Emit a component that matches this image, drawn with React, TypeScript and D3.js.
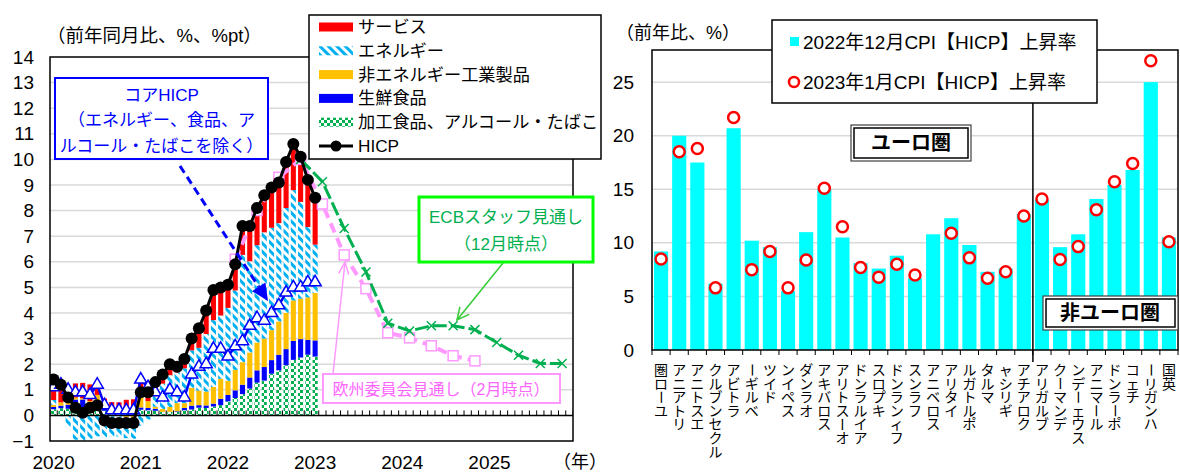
import React from "react";
import * as d3 from "d3";

const FONT = "'Liberation Sans', Arial, 'Noto Sans CJK JP', sans-serif";

// ---- Left panel: euro area HICP, monthly Jan 2020 – Jan 2023 (contributions in %pt) ----
const hicp = [1.4, 1.2, 0.7, 0.3, 0.1, 0.3, 0.4, -0.2, -0.3, -0.3, -0.3, -0.3,
  0.9, 0.9, 1.3, 1.6, 2.0, 1.9, 2.2, 3.0, 3.4, 4.1, 4.9, 5.0,
  5.1, 5.9, 7.4, 7.4, 8.1, 8.6, 8.9, 9.1, 9.9, 10.6, 10.1, 9.2,
  8.5];
const coreHicp = [1.1, 1.2, 1.0, 0.9, 0.9, 0.8, 1.2, 0.4, 0.2, 0.2, 0.2, 0.2,
  1.4, 1.1, 0.9, 0.7, 1.0, 0.9, 0.7, 1.6, 1.9, 2.0, 2.6, 2.6,
  2.3, 2.7, 2.9, 3.5, 3.8, 3.7, 4.0, 4.3, 4.8, 5.0, 5.0, 5.2,
  5.2];
const services = [0.78, 0.74, 0.60, 0.55, 0.60, 0.65, 0.41, 0.32, 0.23, 0.20, 0.28, 0.32,
  0.59, 0.55, 0.55, 0.38, 0.46, 0.29, 0.38, 0.46, 0.71, 0.88, 1.13, 1.01,
  0.95, 1.05, 1.13, 1.38, 1.46, 1.42, 1.55, 1.59, 1.80, 1.80, 1.76, 1.84,
  1.83];
const energy = [0.19, -0.03, -0.44, -0.95, -1.17, -0.91, -0.82, -0.83, -0.80, -0.80, -0.81, -0.78,
  -0.40, -0.16, 0.41, 0.99, 1.24, 1.20, 1.36, 1.46, 1.67, 2.25, 2.61, 2.47,
  2.85, 3.10, 4.19, 3.56, 3.80, 4.15, 4.00, 3.84, 4.09, 4.31, 3.78, 2.75,
  1.89];
const neig = [0.08, 0.13, 0.13, 0.08, 0.05, 0.05, 0.42, -0.03, -0.03, -0.03, -0.08, -0.13,
  0.41, 0.27, 0.08, 0.11, 0.19, 0.32, 0.19, 0.70, 0.57, 0.54, 0.65, 0.78,
  0.55, 0.80, 0.88, 0.98, 1.09, 1.11, 1.17, 1.30, 1.42, 1.58, 1.58, 1.66,
  1.85];
const unprocessedFood = [0.09, 0.10, 0.16, 0.34, 0.34, 0.23, 0.18, 0.16, 0.11, 0.11, 0.15, 0.13,
  0.09, 0.09, 0.08, 0.01, 0.01, 0.03, 0.09, 0.15, 0.10, 0.10, 0.11, 0.25,
  0.25, 0.30, 0.37, 0.43, 0.48, 0.53, 0.53, 0.61, 0.63, 0.74, 0.72, 0.58,
  0.63];
const processedFood = [0.24, 0.28, 0.26, 0.28, 0.28, 0.28, 0.20, 0.18, 0.18, 0.20, 0.18, 0.18,
  0.22, 0.20, 0.18, 0.13, 0.13, 0.13, 0.20, 0.23, 0.30, 0.29, 0.35, 0.40,
  0.55, 0.68, 0.83, 1.05, 1.28, 1.36, 1.63, 1.76, 1.96, 2.17, 2.26, 2.37,
  2.30];
const yearLabels = ["2020", "2021", "2022", "2023", "2024", "2025"];
// quarterly projections, placed on the middle month of each quarter (month index from Jan 2020)
const ecbMonth = [34, 37, 40, 43, 46, 49, 52, 55, 58, 61, 64, 67, 70];
const ecbValues = [10.0, 9.13, 7.3, 5.6, 3.6, 3.3, 3.5, 3.5, 3.35, 2.85, 2.35, 2.03, 2.03];
const ecMonth = [25, 28, 31, 34, 37, 40, 43, 46, 49, 52, 55, 58];
const ecValues = [6.1, 8.0, 9.3, 10.0, 8.26, 6.27, 4.95, 3.23, 3.03, 2.72, 2.33, 2.13];

// ---- Right panel: CPI/HICP by country ----
const countries = ["ユーロ圏", "リトアニア", "エストニア", "ルクセンブルク", "ラトビア", "ベルギー", "ドイツ",
  "スペイン", "オランダ", "スロバキア", "オーストリア", "アイルランド", "キプロス", "フィンランド", "フランス",
  "スロベニア", "イタリア", "ポルトガル", "マルタ", "ギリシャ", "クロアチア",
  "ブルガリア", "デンマーク", "スウェーデン", "ルーマニア", "ポーランド", "チェコ", "ハンガリー", "英国"];
const dec2022 = [9.2, 20.0, 17.5, 6.2, 20.7, 10.2, 9.6, 5.5, 11.0, 15.0, 10.5, 8.1, 7.6, 8.8, 6.7,
  10.8, 12.3, 9.8, 7.3, 7.6, 12.7, 14.0, 9.6, 10.8, 14.1, 15.4, 16.8, 25.0, 10.5];
const jan2023: (number | null)[] = [8.5, 18.5, 18.8, 5.8, 21.7, 7.5, 9.2, 5.8, 8.4, 15.1, 11.5, 7.7, 6.8, 8.0, 7.0,
  null, 10.9, 8.6, 6.7, 7.3, 12.5, 14.1, 8.45, 9.65, 13.1, 15.7, 17.4, 27.0, 10.1];

const stackKeys = ["processed", "unprocessed", "neig", "energy", "services"] as const;
const stackFill: Record<string, string> = {
  processed: "url(#dots)",
  unprocessed: "#0000ff",
  neig: "#ffc000",
  energy: "url(#hatch)",
  services: "#ff0000",
};

function arrowHead(x1: number, y1: number, x2: number, y2: number, len: number, half: number) {
  const a = Math.atan2(y2 - y1, x2 - x1);
  const bx = x2 - len * Math.cos(a), by = y2 - len * Math.sin(a);
  const px = -Math.sin(a) * half, py = Math.cos(a) * half;
  return { tip: [x2, y2], l: [bx + px, by + py], r: [bx - px, by - py] };
}

function LeftPanel() {
  const x0 = 50, x1 = 573, yTop = 57, yBot = 441;
  const x = d3.scaleBand<number>().domain(d3.range(72)).range([x0, x1]).paddingInner(0.3).paddingOuter(0.15);
  const step = x.step();
  const cx = (i: number) => (x(i) as number) + x.bandwidth() / 2;
  const y = d3.scaleLinear().domain([-1, 14]).range([yBot, yTop]);

  const rows = hicp.map((_, i) => ({
    processed: processedFood[i], unprocessed: unprocessedFood[i], neig: neig[i],
    energy: energy[i], services: services[i],
  }));
  const series = d3.stack<any>().keys(stackKeys as any).offset(d3.stackOffsetDiverging)(rows);

  const line = d3.line<[number, number]>().x(d => d[0]).y(d => d[1]);
  const hicpPts = hicp.map((v, i) => [cx(i), y(v)] as [number, number]);
  const corePts = coreHicp.map((v, i) => [cx(i), y(v)] as [number, number]);
  const ecbPts = ecbValues.map((v, i) => [cx(ecbMonth[i]), y(v)] as [number, number]);
  const ecPts = ecValues.map((v, i) => [cx(ecMonth[i]), y(v)] as [number, number]);
  const tri = d3.symbol().type(d3.symbolTriangle).size(64)() as string;

  const coreArrow = arrowHead(180, 166, 268, 301, 17, 8);
  const ecbArrow = arrowHead(503, 263, 457, 320, 12, 6);
  const ecArrow = arrowHead(333, 374, 345, 262, 12, 5);

  const legendItems = [
    { label: "サービス", kind: "rect", fill: "#ff0000" },
    { label: "エネルギー", kind: "rect", fill: "url(#hatch)" },
    { label: "非エネルギー工業製品", kind: "rect", fill: "#ffc000" },
    { label: "生鮮食品", kind: "rect", fill: "#0000ff" },
    { label: "加工食品、アルコール・たばこ", kind: "rect", fill: "url(#dots)" },
    { label: "HICP", kind: "line", fill: "#000" },
  ];

  return (
    <g fontFamily={FONT}>
      <text x={47} y={35} fontSize={18.5} dominantBaseline="central">（前年同月比、%、%pt）</text>
      {/* gridlines */}
      {d3.range(1, 14).map(v => (
        <line key={v} x1={x0} x2={x1} y1={y(v)} y2={y(v)} stroke="#d9d9d9" strokeWidth={1.5} />
      ))}
      <g clipPath="url(#clipL)">
        {series.map(s => (
          <g key={s.key} fill={stackFill[s.key]}>
            {s.map((d, i) => {
              const top = y(Math.max(d[0], d[1]));
              const h = Math.abs(y(d[0]) - y(d[1]));
              return h > 0 ? <rect key={i} x={x(i)} y={top} width={x.bandwidth()} height={h} /> : null;
            })}
          </g>
        ))}
        {/* zero line and monthly ticks */}
        <line x1={x0} x2={x1} y1={y(0)} y2={y(0)} stroke="#000" strokeWidth={1.5} />
        {d3.range(73).map(i => (
          <line key={i} x1={x0 + i * step} x2={x0 + i * step} y1={y(0)} y2={y(0) - 5} stroke="#000" strokeWidth={1} />
        ))}
        {/* European Commission projection */}
        <path d={line(ecPts) as string} fill="none" stroke="#ff99ff" strokeWidth={4} strokeDasharray="10,6" />
        {ecPts.map((p, i) => (
          <rect key={i} x={p[0] - 5} y={p[1] - 5} width={10} height={10} fill="#fff" stroke="#ff99ff" strokeWidth={1.5} />
        ))}
        {/* ECB staff projection */}
        <path d={line(ecbPts) as string} fill="none" stroke="#00b050" strokeWidth={3} strokeDasharray="14,4" />
        {ecbPts.map((p, i) => (
          <path key={i} d={`M${p[0] - 4.5},${p[1] - 4.5}L${p[0] + 4.5},${p[1] + 4.5}M${p[0] - 4.5},${p[1] + 4.5}L${p[0] + 4.5},${p[1] - 4.5}`}
            stroke="#00b050" strokeWidth={1.5} />
        ))}
        {/* core HICP */}
        <path d={line(corePts) as string} fill="none" stroke="#0000ff" strokeWidth={2.5} />
        {corePts.map((p, i) => (
          <path key={i} d={tri} transform={`translate(${p[0]},${p[1]})`} fill="#fff" stroke="#0000ff" strokeWidth={1.5} />
        ))}
        {/* headline HICP */}
        <path d={line(hicpPts) as string} fill="none" stroke="#000" strokeWidth={3} />
        {hicpPts.map((p, i) => (
          <circle key={i} cx={p[0]} cy={p[1]} r={6} fill="#000" />
        ))}
      </g>
      <rect x={x0} y={yTop} width={x1 - x0} height={yBot - yTop} fill="none" stroke="#000" strokeWidth={1.5} />
      {d3.range(-1, 15).map(v => (
        <text key={v} x={34} y={y(v)} fontSize={19} textAnchor="end" dominantBaseline="central">
          {v < 0 ? `−${-v}` : v}
        </text>
      ))}
      {yearLabels.map((t, k) => (
        <text key={t} x={cx(k * 12)} y={462} fontSize={19} textAnchor="middle" dominantBaseline="central">{t}</text>
      ))}
      <text x={580} y={462} fontSize={18} textAnchor="middle" dominantBaseline="central">（年）</text>

      {/* core HICP annotation */}
      <line x1={180} y1={166} x2={(coreArrow.l[0] + coreArrow.r[0]) / 2} y2={(coreArrow.l[1] + coreArrow.r[1]) / 2}
        stroke="#0000ff" strokeWidth={3} strokeDasharray="8,5" />
      <polygon points={`${coreArrow.tip} ${coreArrow.l} ${coreArrow.r}`} fill="#0000ff" />
      <rect x={55} y={78} width={213} height={81} fill="#fff" stroke="#0000ff" strokeWidth={2} />
      {["コアHICP", "（エネルギー、食品、ア", "ルコール・たばこを除く）"].map((t, k) => (
        <text key={k} x={161.5} y={95 + k * 25.5} fontSize={17} fill="#0000ff" textAnchor="middle" dominantBaseline="central">{t}</text>
      ))}

      {/* ECB annotation */}
      <line x1={503} y1={263} x2={457} y2={320} stroke="#33cc33" strokeWidth={1.5} />
      <path d={`M${ecbArrow.l}L${ecbArrow.tip}L${ecbArrow.r}`} fill="none" stroke="#33cc33" strokeWidth={1.5} />
      <rect x={419} y={197} width={174} height={65} fill="#fff" stroke="#00ff00" strokeWidth={3} />
      <text x={506} y={217} fontSize={17} fill="#00b050" textAnchor="middle" dominantBaseline="central">ECBスタッフ見通し</text>
      <text x={506} y={244} fontSize={17} fill="#00b050" textAnchor="middle" dominantBaseline="central">（12月時点）</text>

      {/* European Commission annotation */}
      <line x1={333} y1={374} x2={345} y2={262} stroke="#ff99ff" strokeWidth={1.5} />
      <path d={`M${ecArrow.l}L${ecArrow.tip}L${ecArrow.r}`} fill="none" stroke="#ff99ff" strokeWidth={1.5} />
      <rect x={323} y={374} width={237} height={29} fill="#fff" stroke="#ff99ff" strokeWidth={2} />
      <text x={441} y={389} fontSize={16} fill="#ff66ff" textAnchor="middle" dominantBaseline="central">欧州委員会見通し（2月時点）</text>

      {/* legend */}
      <rect x={309} y={15} width={292} height={144} fill="#fff" stroke="#000" strokeWidth={1.5} />
      {legendItems.map((it, k) => {
        const cy = 27 + k * 23.8;
        return (
          <g key={k}>
            {it.kind === "rect" ? (
              <rect x={319} y={cy - 4.5} width={34} height={9} fill={it.fill} />
            ) : (
              <g>
                <line x1={319} x2={353} y1={cy} y2={cy} stroke="#000" strokeWidth={3} />
                <circle cx={336} cy={cy} r={5.5} fill="#000" />
              </g>
            )}
            <text x={358} y={cy} fontSize={17.2} dominantBaseline="central">{it.label}</text>
          </g>
        );
      })}
    </g>
  );
}

function RightPanel() {
  const x0 = 652, x1 = 1178, yTop = 50, yBot = 350;
  const x = d3.scaleBand<string>().domain(countries).range([x0, x1]).paddingInner(0.22).paddingOuter(0.11);
  const step = x.step();
  const y = d3.scaleLinear().domain([0, 28]).range([yBot, yTop]);
  const cx = (c: string) => (x(c) as number) + x.bandwidth() / 2;
  const divX = x0 + countries.indexOf("ブルガリア") * step;

  return (
    <g fontFamily={FONT}>
      <text x={616} y={33} fontSize={18} dominantBaseline="central">（前年比、%）</text>
      {d3.range(5, 30, 5).map(v => (
        <line key={v} x1={x0} x2={x1} y1={y(v)} y2={y(v)} stroke="#d9d9d9" strokeWidth={1.5} />
      ))}
      {countries.map((c, i) => (
        <rect key={c} x={x(c)} y={y(dec2022[i])} width={x.bandwidth()} height={y(0) - y(dec2022[i])} fill="#00ffff" />
      ))}
      {countries.map((c, i) => jan2023[i] == null ? null : (
        <circle key={c} cx={cx(c)} cy={y(jan2023[i] as number)} r={5.5} fill="#fff" stroke="#ff0000" strokeWidth={2.5} />
      ))}
      <rect x={x0} y={yTop} width={x1 - x0} height={yBot - yTop} fill="none" stroke="#000" strokeWidth={1.5} />
      {d3.range(countries.length + 1).map(i => (
        <line key={i} x1={x0 + i * step} x2={x0 + i * step} y1={yBot} y2={yBot + 5} stroke="#000" strokeWidth={1} />
      ))}
      <line x1={divX} x2={divX} y1={103} y2={362} stroke="#000" strokeWidth={1.5} />
      {d3.range(0, 30, 5).map(v => (
        <text key={v} x={634} y={y(v)} fontSize={19} textAnchor="end" dominantBaseline="central">{v}</text>
      ))}
      {/* vertical category labels: upright glyphs stacked bottom to top, long-vowel mark turned */}
      {countries.map(c => {
        const chars = Array.from(c).reverse();
        return (
          <g key={c}>
            {chars.map((ch, k) => {
              const yy = 370 + k * 13.6;
              return (
                <text key={k} x={cx(c)} y={yy} fontSize={14} textAnchor="middle" dominantBaseline="central"
                  transform={ch === "ー" ? `rotate(90 ${cx(c)} ${yy})` : undefined}>{ch}</text>
              );
            })}
          </g>
        );
      })}
      {/* legend */}
      <rect x={772} y={20} width={325} height={83} fill="#fff" stroke="#000" strokeWidth={1.5} />
      <rect x={790} y={37} width={9} height={9} fill="#00ffff" />
      <text x={803} y={42} fontSize={19} dominantBaseline="central">2022年12月CPI【HICP】上昇率</text>
      <circle cx={794} cy={82} r={5} fill="#fff" stroke="#ff0000" strokeWidth={2.5} />
      <text x={803} y={82} fontSize={19} dominantBaseline="central">2023年1月CPI【HICP】上昇率</text>
      {/* group labels */}
      <rect x={851} y={125} width={120} height={36} fill="#fff" stroke="#404040" strokeWidth={1.2} />
      <rect x={854} y={128} width={114} height={30} fill="none" stroke="#000" strokeWidth={1.5} />
      <text x={911} y={143} fontSize={20} fontWeight="bold" textAnchor="middle" dominantBaseline="central">ユーロ圏</text>
      <rect x={1043} y={296} width={135} height={34} fill="#fff" stroke="#404040" strokeWidth={1.2} />
      <rect x={1046} y={299} width={129} height={28} fill="none" stroke="#000" strokeWidth={1.5} />
      <text x={1110} y={313} fontSize={20} fontWeight="bold" textAnchor="middle" dominantBaseline="central">非ユーロ圏</text>
    </g>
  );
}

export default function App() {
  return (
    <svg width={1180} height={472} style={{ position: "absolute", left: 0, top: 0, background: "#fff" }}>
      <defs>
        <pattern id="hatch" width={6} height={6} patternUnits="userSpaceOnUse" patternTransform="rotate(-45)">
          <rect width={6} height={6} fill="#fff" />
          <rect width={3} height={6} fill="#00b0f0" />
        </pattern>
        <pattern id="dots" width={6} height={6} patternUnits="userSpaceOnUse">
          <rect width={6} height={6} fill="#fff" />
          <rect x={0} y={0} width={3} height={3} fill="#00b050" />
          <rect x={3} y={3} width={3} height={3} fill="#00b050" />
        </pattern>
        <clipPath id="clipL">
          <rect x={50} y={57} width={523} height={384} />
        </clipPath>
      </defs>
      <rect width={1180} height={472} fill="#fff" />
      <LeftPanel />
      <RightPanel />
    </svg>
  );
}
